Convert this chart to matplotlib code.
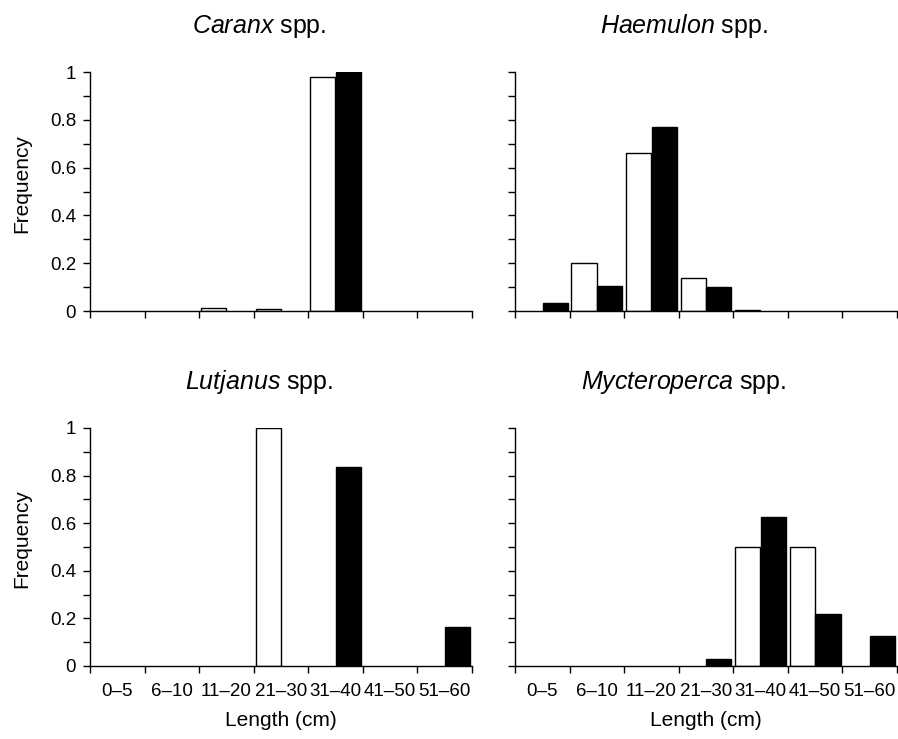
import matplotlib
matplotlib.use("Agg")
import matplotlib.pyplot as plt
import numpy as np
from matplotlib.ticker import FixedLocator, NullFormatter

plt.rcParams['font.family'] = ['Liberation Sans', 'DejaVu Sans']
plt.rcParams['mathtext.fontset'] = 'custom'
plt.rcParams['mathtext.rm'] = 'Liberation Sans'
plt.rcParams['mathtext.it'] = 'Liberation Sans:italic'

categories = ['0–5', '6–10', '11–20', '21–30', '31–40', '41–50', '51–60']

genera = ['Caranx', 'Haemulon', 'Lutjanus', 'Mycteroperca']

caranx_white = [0.0, 0.0, 0.012, 0.008, 0.98, 0.0, 0.0]
caranx_black = [0.0, 0.0, 0.0, 0.0, 1.0, 0.0, 0.0]

haemulon_white = [0.0, 0.2, 0.66, 0.14, 0.005, 0.0, 0.0]
haemulon_black = [0.035, 0.105, 0.77, 0.10, 0.0, 0.0, 0.0]

lutjanus_white = [0.0, 0.0, 0.0, 1.0, 0.0, 0.0, 0.0]
lutjanus_black = [0.0, 0.0, 0.0, 0.0, 0.835, 0.0, 0.165]

mycteroperca_white = [0.0, 0.0, 0.0, 0.0, 0.5, 0.5, 0.0]
mycteroperca_black = [0.0, 0.0, 0.0, 0.03, 0.625, 0.22, 0.125]

whites = [caranx_white, haemulon_white, lutjanus_white, mycteroperca_white]
blacks = [caranx_black, haemulon_black, lutjanus_black, mycteroperca_black]

fig = plt.figure(figsize=(8.98, 7.39), dpi=100)
W, H = 898, 739
boxes = [
    (90, 472, 72, 311),
    (515, 897, 72, 311),
    (90, 472, 428, 666),
    (515, 897, 428, 666),
]

x = np.arange(len(categories))
bw = 0.46
for i, (x0, x1, ytop, ybot) in enumerate(boxes):
    ax = fig.add_axes([x0 / W, 1 - ybot / H, (x1 - x0) / W, (ybot - ytop) / H])
    wv = np.array(whites[i])
    bv = np.array(blacks[i])
    mw = wv > 0
    mb = bv > 0
    ax.bar(x[mw] - 0.235, wv[mw], width=bw, color='white', edgecolor='black', linewidth=1.0, zorder=2)
    ax.bar(x[mb] + 0.235, bv[mb], width=bw, color='black', edgecolor='black', linewidth=1.0, zorder=2)
    ax.set_xlim(-0.5, len(categories) - 0.5)
    ax.set_ylim(0, 1)
    ax.spines['top'].set_visible(False)
    ax.spines['right'].set_visible(False)
    ax.spines['left'].set_linewidth(1.0)
    ax.spines['bottom'].set_linewidth(1.0)
    ax.yaxis.set_major_locator(FixedLocator([0, 0.2, 0.4, 0.6, 0.8, 1.0]))
    ax.yaxis.set_minor_locator(FixedLocator([0.1, 0.3, 0.5, 0.7, 0.9]))
    ax.tick_params(axis='y', which='both', direction='out', length=5, width=1.0, labelsize=13.5, pad=5)
    ax.xaxis.set_major_locator(FixedLocator(np.arange(len(categories) + 1) - 0.5))
    ax.xaxis.set_major_formatter(NullFormatter())
    ax.tick_params(axis='x', which='major', direction='out', length=5, width=1.0)
    if i in (2, 3):
        ax.xaxis.set_minor_locator(FixedLocator(x))
        ax.set_xticklabels(categories, minor=True)
        ax.tick_params(axis='x', which='minor', length=0, labelsize=13.5, pad=12)
        ax.set_xlabel('Length (cm)', fontsize=15, labelpad=8)
    if i in (0, 2):
        ax.set_yticklabels(['0', '0.2', '0.4', '0.6', '0.8', '1'])
        ax.set_ylabel('Frequency', fontsize=15)
        ax.yaxis.set_label_coords(-0.155, 0.535)
    else:
        ax.yaxis.set_major_formatter(NullFormatter())
    ax.set_title(r'$\it{' + genera[i] + r'}$ spp.', fontsize=18, pad=28, x=0.442)

fig.savefig('out.png', dpi=100)
